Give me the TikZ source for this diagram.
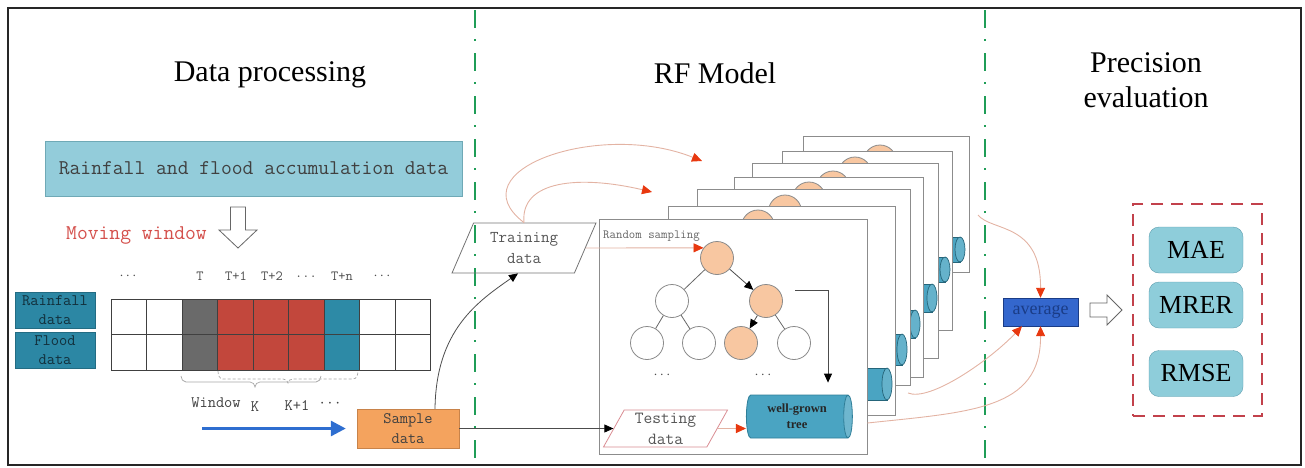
\documentclass[tikz,border=0pt]{standalone}
\usepackage{fontspec}
\setmainfont{Liberation Serif}
\usetikzlibrary{shapes.geometric,arrows.meta,calc}
\definecolor{lblue}{HTML}{93CCDA}
\definecolor{lbluedraw}{HTML}{6FA9B6}
\definecolor{teal1}{HTML}{2C87A4}
\definecolor{lbltxt}{HTML}{12303C}
\definecolor{gcol}{HTML}{6A6A6A}
\definecolor{rcol}{HTML}{C2473C}
\definecolor{tcol}{HTML}{2D8AA6}
\definecolor{orng}{HTML}{F4A35E}
\definecolor{orngdraw}{HTML}{C8834A}
\definecolor{peach}{HTML}{F8C7A1}
\definecolor{circdraw}{HTML}{8A8A8A}
\definecolor{cyl}{HTML}{4AA4C2}
\definecolor{cyldraw}{HTML}{2E7E98}
\definecolor{avg}{HTML}{3467CD}
\definecolor{avgtxt}{HTML}{1A3C86}
\definecolor{grn}{HTML}{1F9D57}
\definecolor{salmon}{HTML}{E3B3A3}
\definecolor{redhead}{HTML}{E8380F}
\definecolor{dred}{HTML}{C2414B}
\definecolor{movered}{HTML}{D4504C}
\definecolor{bluearr}{HTML}{2E6ED0}
\definecolor{txtgray}{HTML}{555555}
\definecolor{metfill}{HTML}{8ECDDA}
\definecolor{metdraw}{HTML}{5E9DAE}
\begin{document}
\begin{tikzpicture}[x=1pt,y=-1pt,
  ttf/.style 2 args={font=\ttfamily\fontsize{#1}{#2}\selectfont},
  title/.style={font=\fontsize{30}{35}\selectfont, align=center, inner sep=0pt},
  cell/.style={draw=black!75, line width=0.7pt},
  lbl/.style={fill=teal1, draw=teal1!80!black, minimum width=80pt, minimum height=36pt, inner sep=0pt, align=center, text=lbltxt, ttf={16}{19}},
  smalltxt/.style={text=black!70, inner sep=0pt, ttf={14}{16}},
  pan/.style={draw=black!45, fill=white, line width=0.8pt, inner sep=0pt},
  tnode/.style={circle, draw=circdraw, line width=0.8pt, minimum size=33pt, inner sep=0pt},
  cylb/.style={shape=cylinder, draw=cyldraw, line width=0.8pt, cylinder uses custom fill, cylinder body fill=cyl, cylinder end fill=cyl!80!white, aspect=0.35, minimum height=60pt, inner sep=0pt},
  cylpart/.style={draw=cyldraw!80!black, line width=0.7pt},
  para/.style={shape=trapezium, trapezium stretches=true, line width=0.8pt, align=center, inner sep=0pt},
  salmonline/.style={draw=salmon, line width=0.9pt},
  redtip/.style={-{Triangle[length=10pt,width=9pt,color=redhead]}},
  blacktip/.style={-{Triangle[length=9pt,width=8pt,color=black]}},
  metric/.style={draw=metdraw, fill=metfill, rounded corners=10pt, minimum width=94pt, minimum height=46pt, inner sep=0pt, font=\fontsize{26}{30}\selectfont},
  hollow/.style={draw=black!60, fill=white, line width=0.8pt}
]
\useasboundingbox (0,0) rectangle (1305,467);
% frame and separators
\draw[line width=2.2pt, black!85] (8,8) rectangle (1301,465);
\draw[grn, line width=2.2pt, dash pattern=on 18pt off 11pt on 2pt off 12pt] (475,10) -- (475,464);
\draw[grn, line width=2.2pt, dash pattern=on 18pt off 11pt on 2pt off 12pt] (985,10) -- (985,464);
% titles
\node[title] (t1) at (270,75) {Data processing};
\node[title] (t2) at (715,73) {RF Model};
\node[title] (t3) at (1146,80) {Precision\\evaluation};
% data processing
\node[draw=lbluedraw, fill=lblue, minimum width=417pt, minimum height=55pt, inner sep=0pt, text=black!75, ttf={21}{25}] (rf) at (253.5,168.5) {Rainfall and flood accumulation data};
\node[anchor=west, text=movered, inner sep=0pt, ttf={21}{25}] (mw) at (66,235) {Moving window};
\draw[hollow] (230.5,207) -- (245.5,207) -- (245.5,230) -- (257,230) -- (238,248) -- (219,230) -- (230.5,230) -- cycle;
% column labels
\node[smalltxt] (d1) at (128,276) {$\cdots$};
\node[smalltxt] (lT) at (200,276) {T};
\node[smalltxt] (lT1) at (236,276) {T+1};
\node[smalltxt] (lT2) at (272,276) {T+2};
\node[smalltxt] (d2) at (306,277) {...};
\node[smalltxt] (lTn) at (342,276) {T+n};
\node[smalltxt] (d3) at (382,276) {$\cdots$};
% grid
\foreach \i/\c in {0/white,1/white,2/gcol,3/rcol,4/rcol,5/rcol,6/tcol,7/white,8/white}{
  \filldraw[cell, fill=\c] (111+35.5*\i,299) rectangle ++(35.5,35.5);
  \filldraw[cell, fill=\c] (111+35.5*\i,334.5) rectangle ++(35.5,35.5);
}
\node[lbl] (rd) at (55,310) {Rainfall\\data};
\node[lbl] (fd) at (55,350.5) {Flood\\data};
% window braces
\draw[black!35, line width=0.7pt] (181,376) to[out=-90,in=180] (186,382) -- (250,382) to[out=0,in=90] (255,387) to[out=90,in=180] (260,382) -- (316,382) to[out=0,in=-90] (321,376);
\draw[black!35, line width=0.7pt, dash pattern=on 3pt off 2pt] (218,371) to[out=-90,in=180] (223,379) -- (283,379) to[out=0,in=90] (288,383) to[out=90,in=180] (293,379) -- (353,379) to[out=0,in=-90] (358,371);
\node[text=black!75, inner sep=0pt, ttf={16}{19}] (win) at (216,403) {Window};
\node[text=black!75, inner sep=0pt, ttf={16}{19}] (wk) at (255,407) {K};
\node[text=black!75, inner sep=0pt, ttf={16}{19}] (wk1) at (297,406) {K+1};
\node[text=black!75, inner sep=0pt, ttf={16}{19}] (wd) at (330,404) {$\cdots$};
% sample data
\node[draw=orngdraw, fill=orng, minimum width=102pt, minimum height=39pt, inner sep=0pt, align=center, text=black!75, ttf={16}{20}] (sd) at (408,428.5) {Sample\\data};
\coordinate (b0) at (202,428.5);
\draw[bluearr, line width=3pt, -{Triangle[length=15pt,width=15pt]}] (b0) -- ($(sd.west)+(-11,0)$);
% training data
\node[para, draw=black!55, trapezium left angle=65, trapezium right angle=115, minimum width=144pt, minimum height=50pt, text=txtgray, ttf={16.5}{21}] (tr) at (524,248) {Training\\data};
\draw[black!70, line width=0.8pt, blacktip] ($(sd.north)+(27,0)$) .. controls +(1,-79) and +(-40,28) .. ($(tr.south)+(-6,0)$);
\coordinate (o1) at (702,161);
\coordinate (o2) at (652,192);
\draw[salmonline, redtip] (tr.north) .. controls (455,170) and (600,120) .. (o1);
\draw[salmonline, redtip] (tr.north) .. controls (520,180) and (580,175) .. (o2);
% back panels
\foreach \n/\cx/\cy/\w/\h/\ox/\oy/\yx/\yy/\yh in {
  7/886/204/166/136/880/161.5/935/249.5/25,
  6/867/240.5/170/179/855/173.5/920/269.5/25,
  5/845/260.5/186/195/833/187.5/907/298/28,
  4/828.5/277/189/200/809/198.5/890/324/28,
  3/803.5/287/213/196/785/211.5/877/349.5/31,
  2/781.5/310.5/227/209/758/226.5/862/384/32}{
  \node[pan, minimum width=\w pt, minimum height=\h pt] (p\n) at (\cx,\cy) {};
  \node[tnode, fill=peach] (r\n) at (\ox,\oy) {};
  \filldraw[cylpart, fill=cyl] (\yx-30,\yy-\yh/2) rectangle (\yx+25,\yy+\yh/2);
  \filldraw[cylpart, fill=cyl!85!white] (\yx+25,\yy) ellipse [x radius=5pt, y radius={\yh*0.5pt}];
}
% front panel
\node[pan, minimum width=268pt, minimum height=235pt] (p1) at (733,336.5) {};
\node[tnode, fill=peach] (root) at (717,258) {};
\node[tnode, fill=white] (l1) at (672,301) {};
\node[tnode, fill=peach] (r1) at (766,301) {};
\node[tnode, fill=white] (ll) at (647,343) {};
\node[tnode, fill=white] (lr) at (699,343) {};
\node[tnode, fill=peach] (rl) at (741,343) {};
\node[tnode, fill=white] (rr) at (794,343) {};
\draw[black!60, line width=0.8pt] (root) -- (l1) (l1) -- (ll) (l1) -- (lr) (r1) -- (rr);
\draw[black!70, line width=0.8pt, blacktip] (root) -- (r1);
\draw[black!70, line width=0.8pt, blacktip] (r1) -- (rl);
\node[smalltxt] (dd1) at (662,375) {$\cdots$};
\node[smalltxt] (dd2) at (763,375) {$\cdots$};
\node[anchor=west, text=black!60, inner sep=0pt, ttf={12.5}{15}] (rs) at (603,236) {Random sampling};
\draw[salmonline, redtip] (tr.east) -- (root.143);
\node[cylb, minimum width=43pt, minimum height=106pt, align=center, text=black!85, font=\bfseries\fontsize{12.5}{16}\selectfont] (wg) at (797,416.5) {well-grown\\tree};
\coordinate (eb) at (795,290);
\draw[black!70, line width=0.8pt, blacktip] (eb) -| ($(wg.north)+(31,-12)$);
\node[para, draw=dred!60, trapezium left angle=64, trapezium right angle=116, minimum width=125pt, minimum height=37pt, text=txtgray, ttf={17}{21}] (te) at (665.5,428.5) {Testing\\data};
\draw[black!70, line width=0.8pt, blacktip] (sd.east) -- (te.west);
\draw[salmonline, redtip] (te.east) -- (te.east -| wg.west);
% precision evaluation
\node[draw=avgtxt, fill=avg, minimum width=75pt, minimum height=28pt, inner sep=0pt, text=avgtxt, font=\fontsize{18}{20}\selectfont] (av) at (1040.5,312) {average};
\coordinate (a1) at (978,215);
\coordinate (a2) at (908,393);
\draw[salmonline, redtip] (a1) .. controls (992,232) and (1041,222) .. (av.north);
\draw[salmonline, redtip] (a2) .. controls (930,402) and (990,360) .. ($(av.south)+(-18.5,0)$);
\draw[salmonline, redtip] ($(p1.east)+(0,86.5)$) .. controls (970,412) and (1041,410) .. (av.south);
\node[draw=dred, line width=2.5pt, dash pattern=on 12pt off 8pt, minimum width=129pt, minimum height=212pt, inner sep=0pt] (mb) at (1197.5,310) {};
\node[metric] (mae) at (1196,250) {MAE};
\node[metric] (mrer) at (1196,305) {MRER};
\node[metric] (rmse) at (1196,373.5) {RMSE};
\draw[hollow] (1090,303) -- (1107,303) -- (1107,295) -- (1122,310) -- (1107,325) -- (1107,317) -- (1090,317) -- cycle;
\end{tikzpicture}
\end{document}
